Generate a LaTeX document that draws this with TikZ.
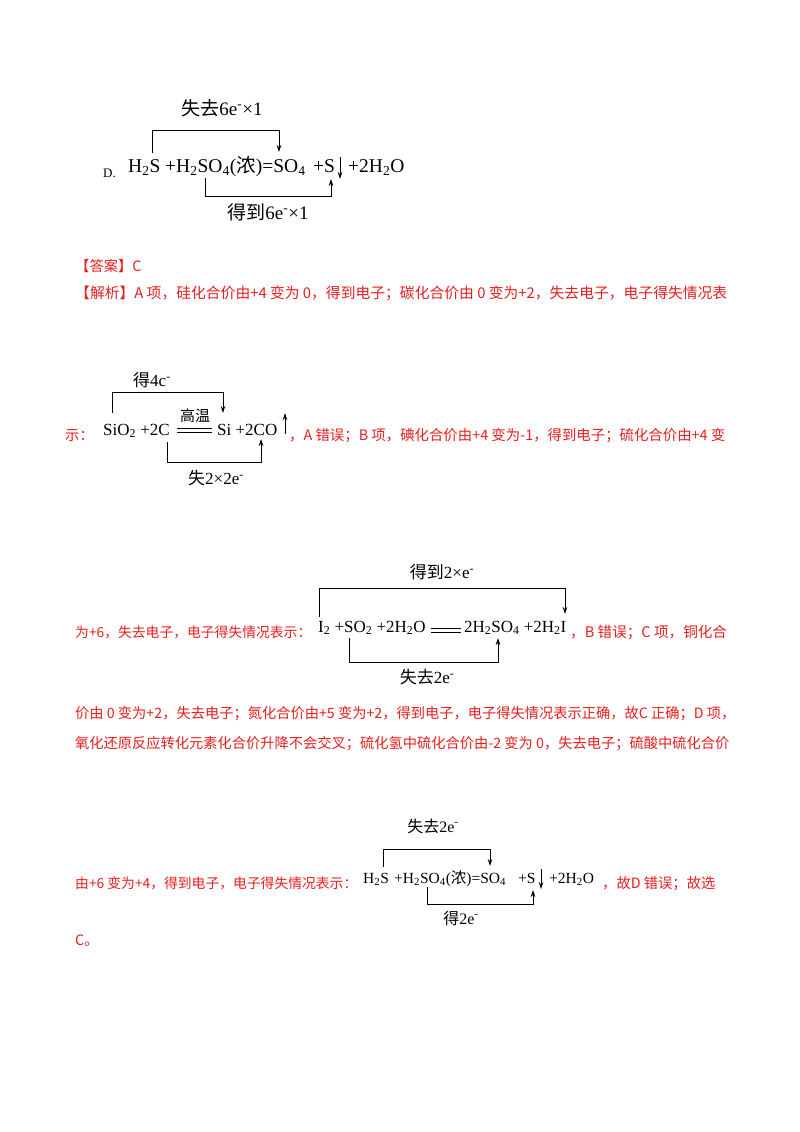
\documentclass[tikz,border=0pt]{standalone}
\usepackage{fontspec}
\setmainfont{Liberation Serif}
\newfontfamily\cjk{Noto Sans CJK SC}
\usetikzlibrary{arrows.meta}
\newcommand\zh[1]{{\cjk #1}}
\newcommand\sbs[1]{\textsubscript{#1}}
\newcommand\sps[1]{\textsuperscript{#1}}
\definecolor{ansred}{RGB}{232,30,30}
\begin{document}
\begin{tikzpicture}[x=1pt,y=-1pt,
  eqA/.style={inner sep=0pt,anchor=base west,font=\fontsize{19.5}{24}\selectfont},
  eqB/.style={inner sep=0pt,anchor=base west,font=\fontsize{17}{21}\selectfont},
  eqC/.style={inner sep=0pt,anchor=base west,font=\fontsize{15.5}{19}\selectfont},
  lblA/.style={inner sep=0pt,font=\fontsize{19}{22}\selectfont},
  lblB/.style={inner sep=0pt,font=\fontsize{17}{20}\selectfont},
  lblC/.style={inner sep=0pt,font=\fontsize{16}{19}\selectfont},
  redtxt/.style={inner sep=0pt,anchor=base west,text=ansred,font=\cjk\fontsize{14.3}{17}\selectfont},
  redfull/.style={redtxt,font=\cjk\fontsize{14.8}{17}\selectfont},
  redlong/.style={redtxt,font=\cjk\fontsize{14.25}{17}\selectfont},
  br/.style={line width=0.8pt,-{Stealth[length=7pt,width=4.5pt]}},
  dbl/.style={line width=0.9pt}]
\useasboundingbox (0,0) rectangle (800,1132);
\fill[white] (0,0) rectangle (800,1132);

% ---------- Equation D ----------
\node[inner sep=0pt,anchor=base west,font=\fontsize{13}{15}\selectfont] (dlab) at (103,177) {D.};
\node[eqA] (d1) at (128,172) {H\sbs{2}S};
\node[eqA] (d2) at (165,172) {+H\sbs{2}SO\sbs{4}(\zh{浓})=SO\sbs{4}};
\node[eqA] (d3) at (313,172) {+S};
\node[eqA] (d4) at (348,172) {+2H\sbs{2}O};
\coordinate (d1s) at (152,153);
\coordinate (d1e) at (279,152);
\draw[br] (d1s) -- (152,130) -| (d1e);
\coordinate (d2s) at (205,178);
\coordinate (d2e) at (331,179);
\draw[br] (d2s) -- (205,196) -| (d2e);
\coordinate (dsa) at (340,157);
\coordinate (dsb) at (340,179);
\draw[br] (dsa) -- (dsb);
\node[lblA] (dt) at (222,108) {\zh{失去}6e\sps{-}×1};
\node[lblA] (db) at (268,212) {\zh{得到}6e\sps{-}×1};

% ---------- red text ----------
\node[redtxt] (ans) at (75,271) {【答案】C};
\node[redfull] (jx) at (75,298) {【解析】A 项，硅化合价由+4 变为 0，得到电子；碳化合价由 0 变为+2，失去电子，电子得失情况表};

% ---------- Equation A ----------
\node[redtxt] (r2a) at (65,440) {示：};
\node[eqB] (a1) at (103,435) {SiO\sbs{2} +2C};
\coordinate (al1) at (177,428);
\coordinate (ar1) at (212,428);
\coordinate (al2) at (177,432);
\coordinate (ar2) at (212,432);
\draw[dbl] (al1) -- (ar1);
\draw[dbl] (al2) -- (ar2);
\node[inner sep=0pt,font=\cjk\fontsize{15}{17}\selectfont] (gw) at (195,416) {高温};
\node[eqB] (a2) at (217,435) {Si +2CO};
\coordinate (aua) at (285,434);
\coordinate (aub) at (285,413);
\draw[br] (aua) -- (aub);
\node[redtxt,font=\cjk\fontsize{14.4}{17}\selectfont] (r2b) at (289,440) {，A 错误；B 项，碘化合价由+4 变为-1，得到电子；硫化合价由+4 变};
\coordinate (a1s) at (112,413);
\coordinate (a1e) at (223,413);
\draw[br] (a1s) -- (112,392) -| (a1e);
\coordinate (a2s) at (167,442);
\coordinate (a2e) at (261,439);
\draw[br] (a2s) -- (167,462) -| (a2e);
\node[lblB] (at) at (152,380) {\zh{得}4c\sps{-}};
\node[lblB] (ab) at (216,478) {\zh{失}2×2e\sps{-}};

% ---------- Equation B ----------
\node[redtxt,font=\cjk\fontsize{13.8}{17}\selectfont] (r3a) at (75,637) {为+6，失去电子，电子得失情况表示：};
\node[eqB] (b1) at (318,632) {I\sbs{2} +SO\sbs{2} +2H\sbs{2}O};
\coordinate (bl1) at (431,628);
\coordinate (br1) at (461,628);
\coordinate (bl2) at (431,632);
\coordinate (br2) at (461,632);
\draw[dbl] (bl1) -- (br1);
\draw[dbl] (bl2) -- (br2);
\node[eqB] (b2) at (464,632) {2H\sbs{2}SO\sbs{4} +2H\sbs{2}I};
\node[redtxt,font=\cjk\fontsize{14.6}{17}\selectfont] (r3b) at (570,637) {，B 错误；C 项，铜化合};
\coordinate (b1s) at (319,617);
\coordinate (b1e) at (565,614);
\draw[br] (b1s) -- (319,588) -| (b1e);
\coordinate (b2s) at (349,638);
\coordinate (b2e) at (498,638);
\draw[br] (b2s) -- (349,662) -| (b2e);
\node[lblB] (bt) at (442,572) {\zh{得到}2×e\sps{-}};
\node[lblB] (bb) at (427,677) {\zh{失去}2e\sps{-}};

% ---------- red text ----------
\node[redlong] (r4) at (75,718) {价由 0 变为+2，失去电子；氮化合价由+5 变为+2，得到电子，电子得失情况表示正确，故C 正确；D 项，};
\node[redlong] (r5) at (75,748) {氧化还原反应转化元素化合价升降不会交叉；硫化氢中硫化合价由-2 变为 0，失去电子；硫酸中硫化合价};

% ---------- Equation D again ----------
\node[redtxt,font=\cjk\fontsize{13.8}{17}\selectfont] (r6a) at (75,888) {由+6 变为+4，得到电子，电子得失情况表示：};
\node[eqC] (c1) at (363,883) {H\sbs{2}S};
\node[eqC] (c2) at (394,883) {+H\sbs{2}SO\sbs{4}(\zh{浓})=SO\sbs{4}};
\node[eqC] (c3) at (518,883) {+S};
\node[eqC] (c4) at (549,883) {+2H\sbs{2}O};
\coordinate (csa) at (541,869);
\coordinate (csb) at (541,889);
\draw[br] (csa) -- (csb);
\node[redtxt] (r6b) at (602,888) {，故D 错误；故选};
\coordinate (c1s) at (383,867);
\coordinate (c1e) at (490,866);
\draw[br] (c1s) -- (383,849) -| (c1e);
\coordinate (c2s) at (427,887);
\coordinate (c2e) at (533,890);
\draw[br] (c2s) -- (427,904) -| (c2e);
\node[lblC] (ct) at (433,826) {\zh{失去}2e\sps{-}};
\node[lblC] (cb) at (461,918) {\zh{得}2e\sps{-}};

\node[redtxt] (r7) at (75,945) {C。};
\end{tikzpicture}
\end{document}
